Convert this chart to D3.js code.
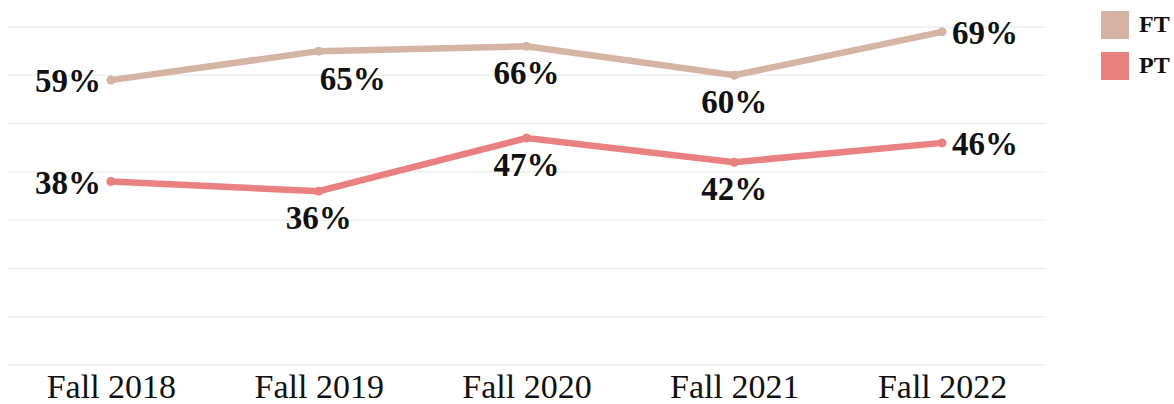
<!DOCTYPE html>
<html>
<head>
<meta charset="utf-8">
<script src="https://cdn.jsdelivr.net/npm/d3@7/dist/d3.min.js"></script>
<style>
html,body{margin:0;padding:0;background:#fff;}
svg{display:block;}
</style>
</head>
<body>
<div id="chart"></div>
<script>
const categories = ["Fall 2018", "Fall 2019", "Fall 2020", "Fall 2021", "Fall 2022"];
const seriesNames = ["FT", "PT"];
const ftValues = [59, 65, 66, 60, 69];
const ptValues = [38, 36, 47, 42, 46];
const yTicks = [0, 10, 20, 30, 40, 50, 60, 70];

const W = 1174, H = 404;
const colors = {FT: "#d6b4a4", PT: "#e8817f"};
const series = [
  {name: seriesNames[0], values: ftValues},
  {name: seriesNames[1], values: ptValues}
];

const svg = d3.select("#chart").append("svg").attr("width", W).attr("height", H);

const x = d3.scalePoint().domain(categories).range([7, 1046]).padding(0.5);
const y = d3.scaleLinear().domain([0, 70]).range([365, 27]);

// gridlines
svg.append("g").selectAll("line").data(yTicks).join("line")
  .attr("x1", 7).attr("x2", 1046)
  .attr("y1", d => y(d)).attr("y2", d => y(d))
  .attr("stroke", "#efefef").attr("stroke-width", 1.5);

// x axis labels
const xAxis = d3.axisBottom(x).tickSize(0).tickPadding(0);
const gx = svg.append("g").attr("transform", `translate(0,${y(0)})`).call(xAxis);
gx.select(".domain").remove();
gx.selectAll("text")
  .attr("dy", 0).attr("y", 33)
  .style("font-family", "'Liberation Serif', 'Times New Roman', serif")
  .style("font-size", "34px").attr("fill", "#111");

const line = d3.line().x((d, i) => x(categories[i])).y(d => y(d));

series.forEach(s => {
  svg.append("path").datum(s.values)
    .attr("d", line).attr("fill", "none")
    .attr("stroke", colors[s.name]).attr("stroke-width", 6.5)
    .attr("stroke-linejoin", "miter");
  svg.append("g").selectAll("circle").data(s.values).join("circle")
    .attr("cx", (d, i) => x(categories[i])).attr("cy", d => y(d))
    .attr("r", 4.5).attr("fill", colors[s.name]);
});

// label placement (style, not data)
function placeLabel(i, sName) {
  const n = categories.length;
  if (i === 0) return {dx: -10, dy: 12, anchor: "end"};
  if (i === n - 1) return {dx: 10, dy: 12, anchor: "start"};
  if (sName === "FT" && i === 1) return {dx: 1, dy: 39, anchor: "start"};
  return {dx: 0, dy: 38, anchor: "middle"};
}

series.forEach(s => {
  svg.append("g").selectAll("text").data(s.values).join("text")
    .each(function(d, i) {
      const p = placeLabel(i, s.name);
      d3.select(this)
        .attr("x", x(categories[i]) + p.dx)
        .attr("y", y(d) + p.dy)
        .attr("text-anchor", p.anchor);
    })
    .text(d => d + "%")
    .style("font-family", "'Liberation Serif', 'Times New Roman', serif")
    .style("font-weight", "bold").style("font-size", "33px")
    .attr("fill", "#111");
});

// legend
const leg = svg.append("g").selectAll("g").data(seriesNames).join("g")
  .attr("transform", (d, i) => `translate(1101,${11 + i * 41})`);
leg.append("rect").attr("width", 28).attr("height", 28)
  .attr("fill", d => colors[d]);
leg.append("text").attr("x", 38).attr("y", 21).text(d => d)
  .style("font-family", "'Liberation Serif', 'Times New Roman', serif")
  .style("font-weight", "bold").style("font-size", "24px").attr("fill", "#111");
</script>
</body>
</html>
